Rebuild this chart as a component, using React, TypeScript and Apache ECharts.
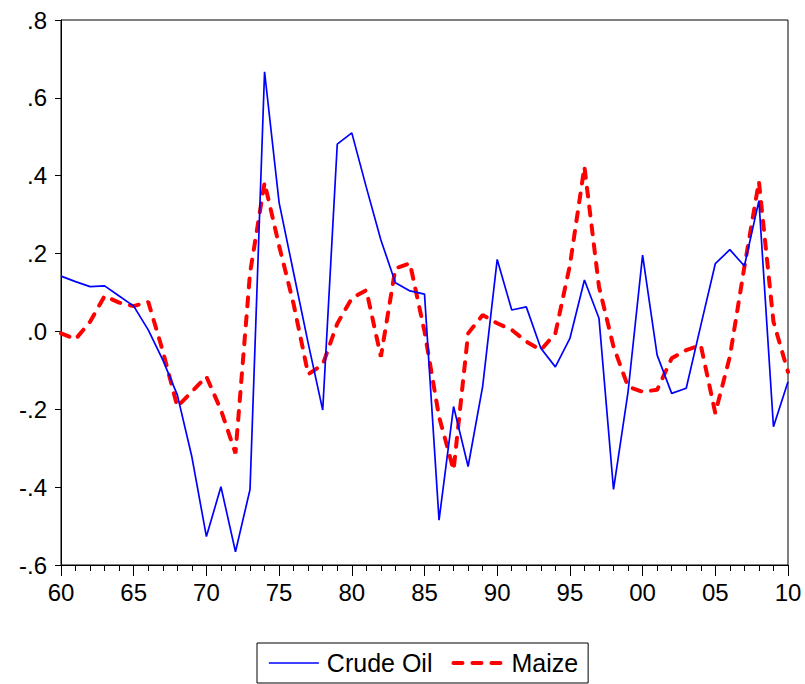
import React, { useEffect, useRef } from "react";
import * as echarts from "echarts";

const years: number[] = [
  1960, 1961, 1962, 1963, 1964, 1965, 1966, 1967, 1968, 1969,
  1970, 1971, 1972, 1973, 1974, 1975, 1976, 1977, 1978, 1979,
  1980, 1981, 1982, 1983, 1984, 1985, 1986, 1987, 1988, 1989,
  1990, 1991, 1992, 1993, 1994, 1995, 1996, 1997, 1998, 1999,
  2000, 2001, 2002, 2003, 2004, 2005, 2006, 2007, 2008, 2009, 2010,
];

const crudeOil: number[] = [
  0.142, 0.128, 0.115, 0.117, 0.091, 0.065, 0.004, -0.073, -0.163, -0.322,
  -0.527, -0.399, -0.566, -0.406, 0.667, 0.331, 0.15, -0.03, -0.202, 0.481,
  0.51, 0.37, 0.235, 0.125, 0.104, 0.096, -0.485, -0.193, -0.347, -0.141,
  0.185, 0.055, 0.063, -0.043, -0.091, -0.018, 0.132, 0.034, -0.406, -0.155,
  0.196, -0.061, -0.159, -0.146, 0.015, 0.174, 0.21, 0.168, 0.336, -0.245, -0.129,
];

const maize: number[] = [
  -0.005, -0.02, 0.025, 0.091, 0.074, 0.065, 0.076, -0.05, -0.193, -0.155,
  -0.116, -0.202, -0.313, 0.15, 0.382, 0.22, 0.07, -0.11, -0.085, 0.02,
  0.085, 0.106, -0.065, 0.162, 0.175, 0.0, -0.219, -0.356, -0.005, 0.042,
  0.021, 0.004, -0.026, -0.048, -0.005, 0.17, 0.423, 0.115, -0.039, -0.142,
  -0.155, -0.15, -0.069, -0.048, -0.035, -0.21, -0.065, 0.166, 0.385, 0.025, -0.104,
];

const seriesNames: string[] = ["Crude Oil", "Maize"];

const FONT = "'Liberation Sans', Arial, sans-serif";

function yLabel(v: number): string {
  const d = Math.round(Math.abs(v) * 10);
  return (v < -1e-9 ? "-" : "") + "." + d;
}

function xLabel(v: number): string {
  const y = Math.round(v) % 100;
  return y < 10 ? "0" + y : String(y);
}

export default function App() {
  const ref = useRef<HTMLDivElement>(null);
  useEffect(() => {
    if (!ref.current) return;
    const chart = echarts.init(ref.current, undefined, { renderer: "svg" });
    chart.setOption({
      animation: false,
      backgroundColor: "#ffffff",
      grid: {
        left: 61,
        top: 20,
        width: 727,
        height: 545,
        containLabel: false,
        show: true,
        borderColor: "#000000",
        borderWidth: 1,
        backgroundColor: "transparent",
      },
      legend: {
        left: 257,
        top: 643,
        padding: [7, 10, 7, 11],
        borderColor: "#000000",
        borderWidth: 1,
        itemWidth: 50,
        itemHeight: 26,
        itemGap: 19,
        itemStyle: { opacity: 0 },
        lineStyle: { width: "inherit" },
        textStyle: {
          fontFamily: FONT,
          fontSize: 25,
          color: "#000000",
          lineHeight: 26,
          padding: [0, 0, 0, 3],
        },
        data: seriesNames,
      },
      xAxis: {
        type: "value",
        min: 1960,
        max: 2010,
        interval: 5,
        axisLine: { show: true, onZero: false, lineStyle: { color: "#000000", width: 1 } },
        axisTick: { show: true, length: 11, lineStyle: { color: "#000000" } },
        minorTick: { show: true, splitNumber: 5, length: 6, lineStyle: { color: "#000000" } },
        splitLine: { show: false },
        axisLabel: {
          fontFamily: FONT,
          fontSize: 24,
          color: "#000000",
          margin: 15,
          showMinLabel: true,
          showMaxLabel: true,
          formatter: xLabel,
        },
      },
      yAxis: {
        type: "value",
        min: -0.6,
        max: 0.8,
        interval: 0.2,
        axisLine: { show: true, onZero: false, lineStyle: { color: "#000000", width: 1 } },
        axisTick: { show: true, length: 6, lineStyle: { color: "#000000" } },
        splitLine: { show: false },
        axisLabel: {
          fontFamily: FONT,
          fontSize: 24,
          color: "#000000",
          margin: 14,
          formatter: yLabel,
        },
      },
      series: [
        {
          name: seriesNames[0],
          type: "line",
          data: years.map((y, i) => [y, crudeOil[i]]),
          symbol: "none",
          lineStyle: { color: "#0000ff", width: 1.7, type: "solid" },
          itemStyle: { color: "#0000ff" },
          z: 3,
        },
        {
          name: seriesNames[1],
          type: "line",
          data: years.map((y, i) => [y, maize[i]]),
          symbol: "none",
          lineStyle: { color: "#ff0000", width: 4, type: [9, 10], cap: "round" },
          itemStyle: { color: "#ff0000" },
          z: 2,
        },
      ],
    });
    return () => chart.dispose();
  }, []);
  return (
    <div
      ref={ref}
      style={{ position: "fixed", left: 0, top: 0, width: 805, height: 684, background: "#fff" }}
    />
  );
}
